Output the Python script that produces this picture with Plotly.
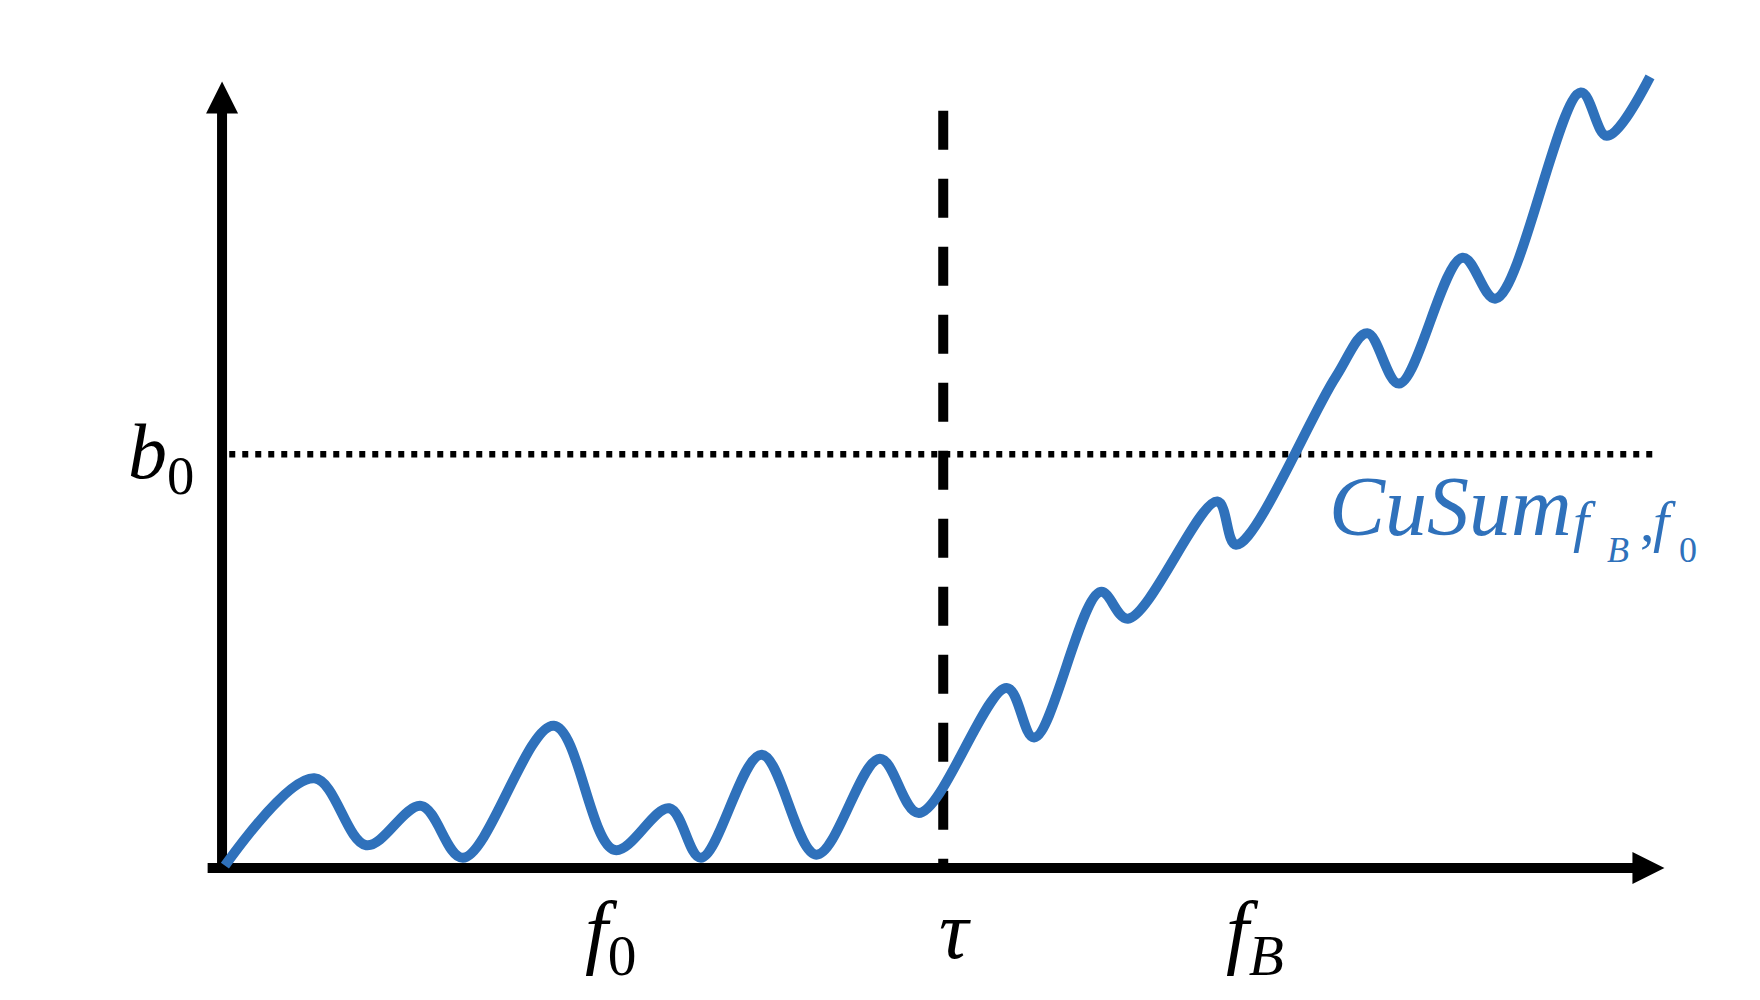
import plotly.graph_objects as go

# CuSum statistic sketch: noisy and flat under f0, drifting upward after the change point tau (fB)
t_vals = [0.2, 6.4, 10.0, 13.8, 16.7, 23.0, 27.2, 31.0, 33.2, 37.4, 41.2, 45.6, 48.3,
          54.4, 56.3, 60.9, 62.8, 69.0, 70.3, 77.2, 79.4, 81.6, 86.0, 88.3, 94.2, 96.0, 99.0]
cusum_vals = [0.3, 11.4, 2.9, 7.9, 1.3, 18.1, 2.3, 7.6, 1.3, 14.4, 1.7, 13.9, 7.0,
              22.9, 16.6, 35.1, 31.7, 46.6, 41.1, 62.4, 68.0, 61.6, 77.6, 72.4, 98.6, 93.1, 100.6]

tau = 50.0        # change point
b0 = 52.6         # threshold
axis_max = 100.0  # where the axis arrows point

regime_labels = ["<i>f</i><sub>0</sub>", "<i>τ</i>", "<i>f</i><sub><i>B</i></sub>"]
regime_pos = [27.0, 50.8, 71.6]
threshold_label = "<i>b</i><sub>0</sub>"
curve_label = "<i>CuSum</i>"
# subscript f_B , f_0 written piece by piece: (text, x, y, size)
curve_sub = [("<i>f</i>", 93.55, 39.7, 58), ("<i>B</i>", 95.85, 37.7, 36), (",", 98.2, 39.7, 58),
             ("<i>f</i>", 99.05, 39.7, 58), ("0", 100.9, 37.7, 36)]

blue = "#2F71BB"
serif = "Liberation Serif"

fig = go.Figure()

# threshold (dotted) and change point (dashed)
fig.add_trace(go.Scatter(x=[0.5, 99.3], y=[b0, b0], mode="lines",
                         line=dict(color="black", width=6.5, dash="6px,7px")))
fig.add_trace(go.Scatter(x=[tau, tau], y=[96.3, 0.2], mode="lines",
                         line=dict(color="black", width=10, dash="39px,29px")))

# axes with arrow heads
fig.add_trace(go.Scatter(x=[-1.0, axis_max - 2.0], y=[0, 0], mode="lines",
                         line=dict(color="black", width=10)))
fig.add_trace(go.Scatter(x=[0, 0], y=[-0.6, axis_max - 3.8], mode="lines",
                         line=dict(color="black", width=10)))
fig.add_trace(go.Scatter(x=[axis_max], y=[0], mode="markers",
                         marker=dict(symbol="arrow-right", size=32, color="black", line_width=0)))
fig.add_trace(go.Scatter(x=[0], y=[axis_max], mode="markers",
                         marker=dict(symbol="arrow-up", size=32, color="black", line_width=0)))

# the CuSum path
fig.add_trace(go.Scatter(x=t_vals, y=cusum_vals, mode="lines",
                         line=dict(color=blue, width=10, shape="spline", smoothing=1)))

for lab, x in zip(regime_labels, regime_pos):
    fig.add_annotation(x=x, y=-1.9, text=lab, showarrow=False, xanchor="center", yanchor="top",
                       font=dict(family=serif, size=82, color="black"))
fig.add_annotation(x=-1.8, y=b0 - 0.4, text=threshold_label, showarrow=False, xanchor="right",
                   yanchor="middle", font=dict(family=serif, size=78, color="black"))
fig.add_annotation(x=76.6, y=39.8, text=curve_label, showarrow=False, xanchor="left",
                   yanchor="bottom", font=dict(family=serif, size=84, color=blue))
for txt, x, y, sz in curve_sub:
    fig.add_annotation(x=x, y=y, text=txt, showarrow=False, xanchor="left", yanchor="bottom",
                       font=dict(family=serif, size=sz, color=blue))

# the page body adds an 8 px margin, so the ranges are shifted to keep the drawing in place
fig.update_layout(
    width=1760, height=1000,
    margin=dict(l=0, r=0, t=0, b=0),
    paper_bgcolor="white", plot_bgcolor="white",
    showlegend=False,
    xaxis=dict(range=[-14.84, 107.18], visible=False, fixedrange=True),
    yaxis=dict(range=[-17.80, 109.35], visible=False, fixedrange=True),
)

fig.write_html("out.html")
